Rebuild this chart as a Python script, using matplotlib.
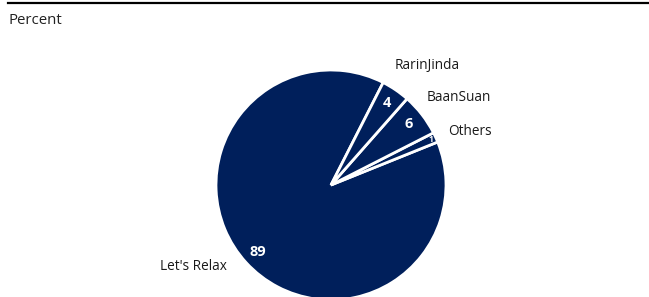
import matplotlib.pyplot as plt
from matplotlib.lines import Line2D
import numpy as np

# данные
names = ["Let's Relax", "Others", "BaanSuan", "RarinJinda"]
values = [88.6, 1.4, 6.0, 4.0]
value_labels = ["89", "1", "6", "4"]

navy = '#001f5b'
plt.rcParams['font.family'] = ['Open Sans', 'DejaVu Sans']

fig = plt.figure(figsize=(6.49, 2.97), dpi=100)

# верхняя линия и заголовок
fig.add_artist(Line2D([8 / 649, 1.0], [1 - 3 / 297, 1 - 3 / 297], color='black', lw=1.6))
fig.text(9 / 649, 1 - 20 / 297, 'Percent', fontsize=10.8, va='center', ha='left',
         color='#222222')

# круговая диаграмма: центр (331, 185) px, радиус 115 px
cx, cy, r = 331, 185, 115
ax = fig.add_axes([(cx - r) / 649, (297 - cy - r) / 297, 2 * r / 649, 2 * r / 297])
wedges, texts = ax.pie(values, startangle=63, colors=[navy] * 4,
                       wedgeprops=dict(edgecolor='white', linewidth=2),
                       radius=1)
ax.set_xlim(-1, 1)
ax.set_ylim(-1, 1)
ax.set_aspect('equal')
ax.axis('off')

# подписи значений внутри секторов
for w, lab in zip(wedges, value_labels):
    mid = np.deg2rad((w.theta1 + w.theta2) / 2)
    d = 0.95 if lab == "1" else 0.86
    fs = 6 if lab == "1" else 10.5
    ax.text(d * np.cos(mid), d * np.sin(mid), lab, color='white', fontweight='bold',
            fontsize=fs, ha='center', va='center')

# подписи категорий
label_pos = {
    "RarinJinda": (0.557, 1.043, 'left'),
    "BaanSuan": (0.835, 0.765, 'left'),
    "Others": (1.017, 0.461, 'left'),
    "Let's Relax": (-0.904, -0.713, 'right'),
}
for n in names:
    x, y, ha = label_pos[n]
    ax.text(x, y, n, fontsize=9.8, ha=ha, va='center', color='#1a1a1a', clip_on=False)

plt.savefig('out.png', dpi=100)
plt.close()
